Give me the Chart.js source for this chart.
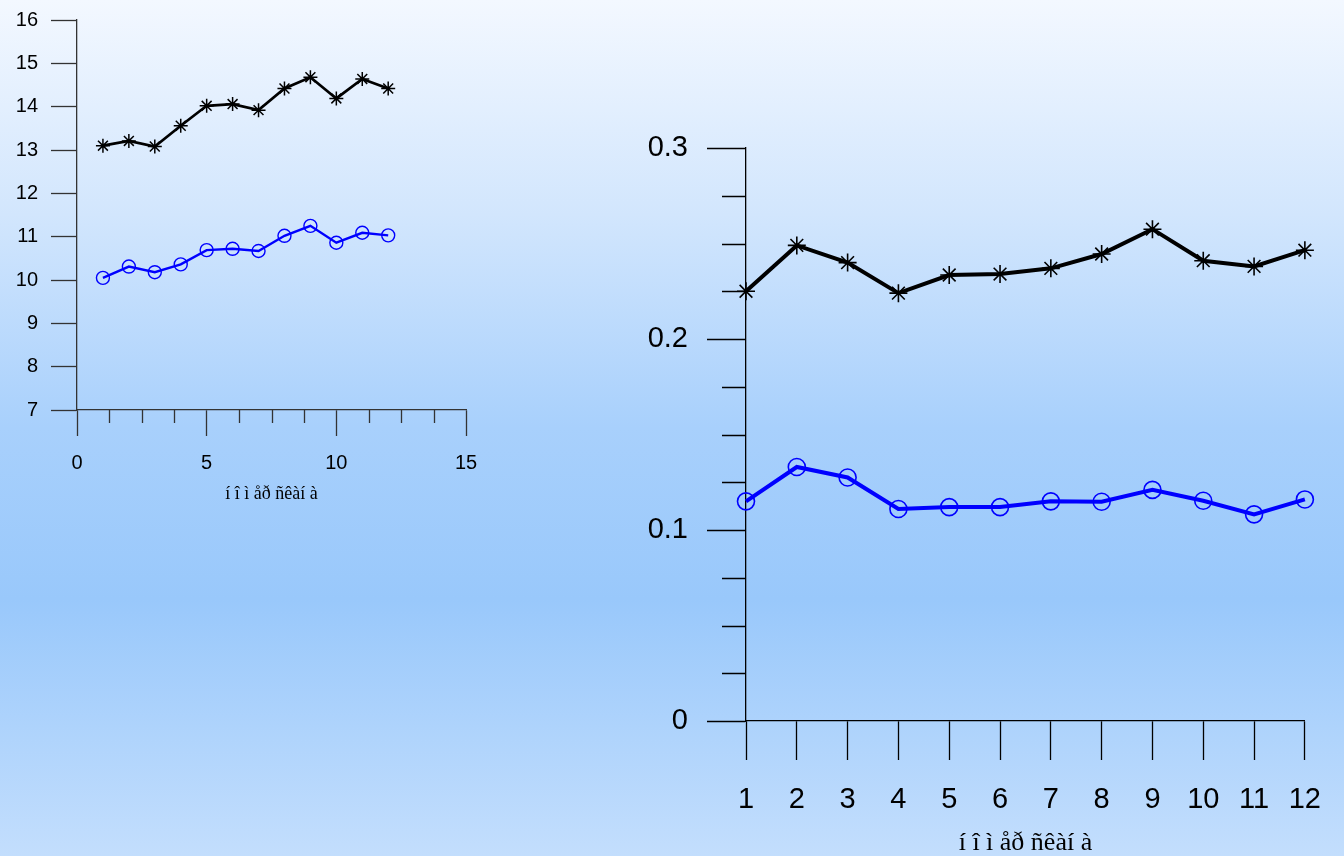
<!DOCTYPE html>
<html>
<head>
<meta charset="utf-8">
<script src="https://cdn.jsdelivr.net/npm/chart.js@4/dist/chart.umd.min.js"></script>
<style>
  html, body { margin: 0; padding: 0; }
  body {
    width: 1344px; height: 856px; overflow: hidden; position: relative;
    background: linear-gradient(to bottom, #f3f8ff 0%, #d2e6fd 25%, #a8d0fc 50%, #99c8fb 70%, #c3defd 100%);
  }
  canvas { position: absolute; }
</style>
</head>
<body>
<canvas id="left" width="520" height="525" style="left:0px;top:-5px;"></canvas>
<canvas id="right" width="744" height="880" style="left:600px;top:0px;"></canvas>
<script>
// ---- Data: left chart ----
const leftX = [1, 2, 3, 4, 5, 6, 7, 8, 9, 10, 11, 12];
const leftStar = [13.10, 13.21, 13.08, 13.56, 14.02, 14.06, 13.92, 14.42, 14.68, 14.19, 14.64, 14.42];
const leftCircle = [10.05, 10.31, 10.18, 10.36, 10.69, 10.72, 10.67, 11.02, 11.25, 10.86, 11.09, 11.03];
const leftXMinorTicks = [1.25, 2.5, 3.75, 6.25, 7.5, 8.75, 11.25, 12.5, 13.75];

// ---- Data: right chart ----
const rightCategories = ['1', '2', '3', '4', '5', '6', '7', '8', '9', '10', '11', '12'];
const rightStar = [0.225, 0.249, 0.240, 0.224, 0.2335, 0.234, 0.237, 0.2445, 0.2575, 0.241, 0.238, 0.2465];
const rightCircle = [0.115, 0.133, 0.1275, 0.111, 0.112, 0.112, 0.115, 0.1148, 0.121, 0.1153, 0.1082, 0.116];
const rightYMinorTicks = [0.025, 0.05, 0.075, 0.125, 0.15, 0.175, 0.225, 0.25, 0.275];

const axisTitle = 'í î ì åð ñêàí à';

const minorTicksPlugin = {
  id: 'minorTicks',
  afterDraw(chart, args, opts) {
    const ctx = chart.ctx;
    (opts.items || []).forEach(it => {
      const s = chart.scales[it.axis];
      ctx.save();
      ctx.strokeStyle = it.color;
      ctx.lineWidth = it.width;
      ctx.beginPath();
      it.values.forEach(v => {
        const p = Math.round(s.getPixelForValue(v)) + 0.5;
        if (s.isHorizontal()) {
          ctx.moveTo(p, s.top);
          ctx.lineTo(p, s.top + it.length);
        } else {
          ctx.moveTo(s.right, p);
          ctx.lineTo(s.right - it.length, p);
        }
      });
      ctx.stroke();
      ctx.restore();
    });
  }
};

Chart.defaults.font.family = '"Liberation Sans", Arial, sans-serif';
const serif = '"Liberation Serif", "Times New Roman", serif';

// ---- Left chart ----
new Chart(document.getElementById('left'), {
  type: 'line',
  data: {
    datasets: [
      {
        data: leftX.map((x, i) => ({ x, y: leftStar[i] })),
        borderColor: '#000000', borderWidth: 2.7,
        pointStyle: 'star', pointRadius: 7, pointBorderWidth: 1.5,
        pointBorderColor: '#000000', pointBackgroundColor: 'transparent',
        tension: 0, clip: false
      },
      {
        data: leftX.map((x, i) => ({ x, y: leftCircle[i] })),
        borderColor: '#0000ff', borderWidth: 2.4,
        pointStyle: 'circle', pointRadius: 6.5, pointBorderWidth: 1.4,
        pointBorderColor: '#0000ff', pointBackgroundColor: 'transparent',
        tension: 0, clip: false
      }
    ]
  },
  options: {
    responsive: false, animation: false,
    layout: { padding: { top: 25, right: 54, left: 0, bottom: 0 } },
    plugins: {
      legend: { display: false }, tooltip: { enabled: false },
      minorTicks: { items: [{ axis: 'x', values: leftXMinorTicks, length: 13, color: '#333333', width: 1.3 }] }
    },
    scales: {
      x: {
        type: 'linear', min: 0, max: 15,
        afterFit: s => { s.height = 110; },
        border: { color: '#333333', width: 1.3 },
        grid: { drawOnChartArea: false, tickLength: 26, tickColor: '#333333', tickWidth: 1.3 },
        ticks: { stepSize: 5, color: '#000000', font: { size: 20 }, padding: 15, maxRotation: 0 },
        title: { display: true, text: axisTitle, color: '#000000',
                 font: { family: serif, size: 18 },
                 padding: { top: 0, bottom: 15 } }
      },
      y: {
        type: 'linear', min: 7, max: 16,
        afterFit: s => { s.width = 77; },
        border: { color: '#333333', width: 1.3 },
        grid: { drawOnChartArea: false, tickLength: 26, tickColor: '#333333', tickWidth: 1.3 },
        ticks: { stepSize: 1, color: '#000000', font: { size: 20 }, padding: 13 }
      }
    }
  },
  plugins: [minorTicksPlugin]
});

// ---- Right chart ----
new Chart(document.getElementById('right'), {
  type: 'line',
  data: {
    labels: rightCategories,
    datasets: [
      {
        data: rightStar,
        borderColor: '#000000', borderWidth: 4,
        pointStyle: 'star', pointRadius: 9, pointBorderWidth: 1.6,
        pointBorderColor: '#000000', pointBackgroundColor: 'transparent',
        tension: 0, clip: false
      },
      {
        data: rightCircle,
        borderColor: '#0000ff', borderWidth: 4,
        pointStyle: 'circle', pointRadius: 8.5, pointBorderWidth: 1.6,
        pointBorderColor: '#0000ff', pointBackgroundColor: 'transparent',
        tension: 0, clip: false
      }
    ]
  },
  options: {
    responsive: false, animation: false,
    layout: { padding: { top: 148, right: 23, left: 0, bottom: 0 } },
    plugins: {
      legend: { display: false }, tooltip: { enabled: false },
      minorTicks: { items: [{ axis: 'y', values: rightYMinorTicks, length: 24, color: '#000000', width: 1.3 }] }
    },
    scales: {
      x: {
        type: 'category', offset: false,
        afterFit: s => { s.height = 159; },
        border: { color: '#000000', width: 1.3 },
        grid: { drawOnChartArea: false, offset: false, tickLength: 39, tickColor: '#000000', tickWidth: 1.3 },
        ticks: { color: '#000000', font: { size: 29 }, padding: 23, maxRotation: 0, autoSkip: false },
        title: { display: true, text: axisTitle, color: '#000000',
                 font: { family: serif, size: 26 },
                 padding: { top: 0, bottom: 21 } }
      },
      y: {
        type: 'linear', min: 0, max: 0.3,
        afterFit: s => { s.width = 146; },
        border: { color: '#000000', width: 1.3 },
        grid: { drawOnChartArea: false, tickLength: 39, tickColor: '#000000', tickWidth: 1.3 },
        ticks: { stepSize: 0.1, color: '#000000', font: { size: 29 }, padding: 19,
                 callback: v => String(Math.round(v * 10) / 10) }
      }
    }
  },
  plugins: [minorTicksPlugin]
});
</script>
</body>
</html>
